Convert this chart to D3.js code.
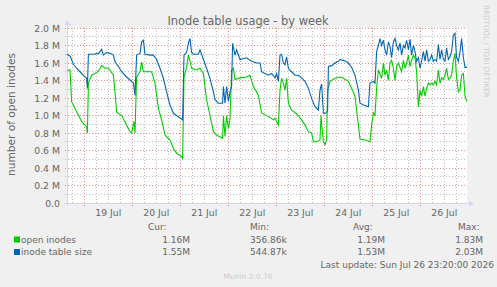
<!DOCTYPE html>
<html><head><meta charset="utf-8">
<script src="https://cdn.jsdelivr.net/npm/d3@7"></script>
<style>
body{margin:0;background:#F0F0F0;}
svg{display:block;font-family:"DejaVu Sans",sans-serif;}
</style>
</head><body>
<svg id="c" width="497" height="287"></svg>
<script>
// ---- data (hours after Jul 18 15:20 UTC, values in millions) ----
const title = "Inode table usage - by week";
const yLabel = "number of open inodes";
const yTicks = [0,0.2,0.4,0.6,0.8,1.0,1.2,1.4,1.6,1.8,2.0];
const yTickLabels = ["0.0","0.2 M","0.4 M","0.6 M","0.8 M","1.0 M","1.2 M","1.4 M","1.6 M","1.8 M","2.0 M"];
const seriesNames = ["open inodes","inode table size"];
const seriesColors = ["#00CC00","#0066B3"];
const curVals = ["1.16M","1.55M"];
const minVals = ["356.86k","544.87k"];
const avgVals = ["1.19M","1.53M"];
const maxVals = ["1.83M","2.03M"];
const lastUpdate = "Last update: Sun Jul 26 23:20:00 2026";

const blueHours = [0,1.5,3.2,4.8,6.5,8.2,9.8,10.2,10.7,13.2,15.7,16.5,17.3,18.2,19.8,21.5,23.2,24,25.7,27.3,29.8,31.5,33.2,34,34.8,36.5,37.3,38.2,39,41.5,43.2,44.8,46.5,48.2,49.8,51.5,53.2,55.7,57.8,58.5,59.8,60.7,61.5,62.3,63.2,65.7,66.5,68.2,69.8,71.5,73.2,74,75.7,77.8,78.2,79,79.8,80.7,81.5,82.3,82.8,84,84.8,86.5,89.8,92.3,94.8,96.5,97.3,99,100.7,102.3,104,104.8,105.7,106.5,107.3,108.2,109,109.8,110.7,112.3,114,115.7,117.3,119,120.7,122.3,124,125.7,126.5,127.3,128.2,129.3,130.3,130.7,132.3,134,135.7,136.5,138.2,140.7,142.3,144,145.7,146.5,148.2,150.7,151.5,153.2,154,154.8,155.7,156.5,157.3,158.2,159,159.8,160.7,161.5,162.3,163.2,164,164.8,165.7,166.5,167.3,168.2,169,169.8,170.7,171.5,172.3,173.2,174,174.8,175.7,176.5,177.3,178.2,179,179.8,180.7,181.5,182.3,183.2,184,184.8,185.7,186.5,187.3,188.2,189,189.8,190.7,191.5,192.3,193.2,194,194.8,195.7,196.5,197.3,198.2,199,200];
const blueValues = [1.70,1.68,1.585,1.54,1.50,1.46,1.425,1.31,1.70,1.70,1.71,1.73,1.757,1.69,1.72,1.71,1.69,1.615,1.56,1.50,1.44,1.406,1.37,1.23,1.69,1.71,1.84,1.86,1.70,1.69,1.69,1.64,1.54,1.425,1.27,1.12,1.025,0.986,0.95,1.69,1.72,1.83,1.88,1.72,1.70,1.70,1.75,1.64,1.54,1.425,1.27,1.18,1.14,1.14,1.33,1.14,1.33,1.16,1.27,1.33,1.825,1.69,1.75,1.64,1.66,1.62,1.60,1.60,1.50,1.48,1.46,1.48,1.43,1.48,1.39,1.69,1.70,1.60,1.58,1.67,1.54,1.50,1.46,1.46,1.43,1.39,1.31,1.196,1.10,1.063,1.29,1.36,1.025,1.025,1.05,1.56,1.57,1.60,1.62,1.64,1.63,1.60,1.55,1.46,1.29,1.14,1.12,1.10,1.37,1.39,1.37,1.73,1.80,1.88,1.80,1.86,1.75,1.69,1.84,1.79,1.66,1.84,1.88,1.80,1.75,1.83,1.69,1.80,1.77,1.86,1.75,1.87,1.69,1.80,1.73,1.62,1.66,1.54,1.62,1.73,1.62,1.75,1.62,1.64,1.69,1.62,1.64,1.62,1.81,1.64,1.75,1.64,1.62,1.77,1.64,1.67,1.73,1.92,1.94,1.66,1.62,1.73,1.88,1.66,1.55,1.55];

const greenHours = [0,1.5,2.3,4,5.7,7.3,9,9.8,10.2,10.7,12.3,14.8,16.2,17.3,19,20.7,22.3,23.2,24,24.8,27.3,29.8,31.5,32.3,33.5,34,34.8,36.5,37.3,38.2,40.7,42.3,44,45.7,47.3,49,51.5,53.2,54.8,57.3,57.8,58.5,59.8,60.7,61.5,62.3,64.8,66.5,68.2,69.8,71.5,73.2,74.8,77.8,78.2,79,79.8,80.7,81.5,82.3,83.2,84,86.5,89.8,91.5,93.2,94.8,95.7,97.3,99,100.7,103.2,104,104.8,105.7,106.5,107.3,108.2,109,109.8,110.7,112.3,114.8,117.3,119,120.7,122.3,123.2,124.8,126.5,127,127.3,128.2,129,129.8,130.3,131.5,134,136.5,138.2,140.7,142.3,144,144.8,145.7,146.5,149,151.5,152.3,153.2,154,154.8,155.7,157.3,158.2,159,159.8,160.7,161.5,162.3,163.2,164,164.8,165.7,167.3,168.2,169,169.8,170.7,171.5,172.3,173.2,174,174.8,175.7,176.5,177.3,178.2,179,179.8,180.7,181.5,182.3,183.2,184,184.8,185.7,186.5,187.3,188.2,189,189.8,190.7,191.5,192.3,193.2,194,194.8,195.7,196.5,197.3,198.2,199,200];
const greenValues = [1.52,1.52,1.158,1.08,1.006,0.93,0.89,0.87,0.797,1.37,1.46,1.49,1.52,1.57,1.54,1.54,1.49,1.46,1.27,1.04,1.0,0.89,0.815,0.80,0.93,0.80,1.44,1.50,1.61,1.50,1.50,1.50,1.37,1.08,0.95,0.777,0.72,0.625,0.568,0.53,0.51,1.44,1.55,1.69,1.62,1.54,1.52,1.54,1.48,1.18,1.0,0.815,0.777,0.74,1.0,0.76,1.0,0.85,0.96,1.52,1.54,1.41,1.43,1.44,1.46,1.33,1.27,1.23,1.03,1.01,0.99,0.95,0.97,0.93,0.89,1.29,1.425,1.37,1.29,1.425,1.14,1.06,1.02,0.95,0.89,0.815,0.80,0.70,0.70,0.72,1.0,0.90,0.70,0.667,0.72,1.29,1.39,1.425,1.44,1.425,1.39,1.31,1.22,1.06,0.89,0.73,0.72,0.70,0.89,1.03,1.0,1.31,1.52,1.425,1.60,1.46,1.52,1.40,1.60,1.63,1.54,1.40,1.56,1.60,1.50,1.63,1.54,1.60,1.69,1.56,1.63,1.69,1.66,1.50,1.10,1.29,1.22,1.33,1.22,1.31,1.37,1.35,1.37,1.35,1.39,1.35,1.52,1.37,1.43,1.41,1.46,1.54,1.41,1.43,1.46,1.63,1.71,1.43,1.27,1.29,1.46,1.48,1.22,1.16];

// ---- layout ----
const svg = d3.select("#c");
const L = 67, R = 467, T = 28, B = 203;
const start = new Date(Date.UTC(2026,6,18,15,20));
const end = new Date(start.getTime() + 200*3600*1000);
const x = d3.scaleUtc().domain([start,end]).range([L,R]);
const y = d3.scaleLinear().domain([0,2]).range([B,T]);
const hx = h => x(new Date(start.getTime() + h*3600*1000));
const FONT = "#666666";

svg.append("rect").attr("x",0).attr("y",0).attr("width",497).attr("height",287).attr("fill","#F0F0F0");
svg.append("rect").attr("x",L).attr("y",T).attr("width",R-L).attr("height",B-T).attr("fill","#FFFFFF");

const minorCol = "#BDBDBD", majorCol = "#E88C8C";
const g = svg.append("g");
const py = v => Math.floor(y(v)) + 0.5;
const px = d => Math.floor(x(d)) + 0.5;
const yMinor = d3.range(1,20,2).map(i=>i/10);
g.selectAll(".hm").data(yMinor).enter().append("line")
 .attr("x1",L-2).attr("x2",R).attr("y1",py).attr("y2",py)
 .attr("stroke",minorCol).attr("stroke-dasharray","1,2");
const days = d3.utcDay.range(start,end);
const sixH = d3.utcHour.every(6).range(start,end).filter(d=>d.getUTCHours()!==0);
g.selectAll(".vm").data(sixH).enter().append("line")
 .attr("x1",px).attr("x2",px).attr("y1",T).attr("y2",B+2)
 .attr("stroke",minorCol).attr("stroke-dasharray","1,2");
g.selectAll(".hM").data(yTicks.slice(1)).enter().append("line")
 .attr("x1",L-2).attr("x2",R).attr("y1",py).attr("y2",py)
 .attr("stroke",majorCol).attr("stroke-dasharray","1,2");
g.selectAll(".vM").data(days).enter().append("line")
 .attr("x1",px).attr("x2",px).attr("y1",T).attr("y2",B+3)
 .attr("stroke",majorCol).attr("stroke-dasharray","1,2");

const axisCol = "#CFD6F8";
g.append("line").attr("x1",L-3).attr("x2",R+3).attr("y1",B+0.5).attr("y2",B+0.5).attr("stroke",axisCol);
g.append("line").attr("x1",L+0.5).attr("x2",L+0.5).attr("y1",B+3).attr("y2",T-4).attr("stroke",axisCol);
svg.append("path").attr("d",`M${R+2},${B-2.5} L${R+7},${B+0.5} L${R+2},${B+3.5} Z`).attr("fill",axisCol);
svg.append("path").attr("d",`M${L-2.5},${T-3} L${L+0.5},${T-8} L${L+3.5},${T-3} Z`).attr("fill",axisCol);

svg.selectAll(".yl").data(yTicks).enter().append("text")
 .attr("x",60).attr("y",d=>y(d)+3.5).attr("text-anchor","end")
 .attr("font-size","9.3px").attr("fill",FONT).text((d,i)=>yTickLabels[i]);
const noons = days.map(d=>new Date(d.getTime()+12*3600*1000)).filter(d=>d<end && d>start);
svg.selectAll(".xl").data(noons).enter().append("text")
 .attr("x",d=>x(d)).attr("y",216).attr("text-anchor","middle")
 .attr("font-size","9.3px").attr("fill",FONT).text(d=>d3.utcFormat("%-d %b")(d));

const line = d3.line().x(d=>hx(d[0])).y(d=>y(d[1]));
const greenPts = greenHours.map((h,i)=>[h,greenValues[i]]);
const bluePts = blueHours.map((h,i)=>[h,blueValues[i]]);
svg.append("path").attr("d",line(greenPts)).attr("fill","none").attr("stroke",seriesColors[0]).attr("stroke-width",1.1);
svg.append("path").attr("d",line(bluePts)).attr("fill","none").attr("stroke",seriesColors[1]).attr("stroke-width",1.1);

svg.append("text").attr("x",248).attr("y",25).attr("text-anchor","middle")
 .attr("font-size","11.4px").attr("fill",FONT).text(title);
svg.append("text").attr("transform","translate(15,114.5) rotate(-90)").attr("text-anchor","middle")
 .attr("font-size","10.6px").attr("fill",FONT).text(yLabel);
svg.append("text").attr("transform","translate(484,5) rotate(90)").attr("text-anchor","start")
 .attr("font-size","7.2px").attr("fill","#CCCCCC").text("RRDTOOL / TOBI OETIKER");

const lf = "9px";
const hdrY = 230;
[["Cur:",148],["Min:",250],["Avg:",353],["Max:",458]].forEach(([t,xx])=>{
  svg.append("text").attr("x",xx).attr("y",hdrY).attr("font-size",lf).attr("fill",FONT).text(t);
});
const rowY = [242.5,255];
seriesNames.forEach((n,i)=>{
  svg.append("rect").attr("x",14).attr("y",rowY[i]-6).attr("width",6).attr("height",6).attr("fill",seriesColors[i]);
  svg.append("text").attr("x",21).attr("y",rowY[i]).attr("font-size",lf).attr("fill",FONT).text(n);
  svg.append("text").attr("x",190).attr("y",rowY[i]).attr("text-anchor","end").attr("font-size",lf).attr("fill",FONT).text(curVals[i]);
  svg.append("text").attr("x",250).attr("y",rowY[i]).attr("font-size",lf).attr("fill",FONT).text(minVals[i]);
  svg.append("text").attr("x",385).attr("y",rowY[i]).attr("text-anchor","end").attr("font-size",lf).attr("fill",FONT).text(avgVals[i]);
  svg.append("text").attr("x",483).attr("y",rowY[i]).attr("text-anchor","end").attr("font-size",lf).attr("fill",FONT).text(maxVals[i]);
});
svg.append("text").attr("x",494).attr("y",268).attr("text-anchor","end").attr("font-size",lf).attr("fill",FONT).text(lastUpdate);
svg.append("text").attr("x",248).attr("y",279).attr("text-anchor","middle").attr("font-size","7.5px").attr("fill","#CCCCCC").text("Munin 2.0.76");
</script>
</body></html>
